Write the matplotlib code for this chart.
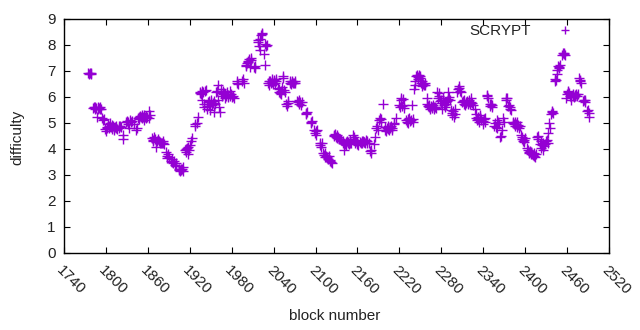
import matplotlib
matplotlib.use("Agg")
import matplotlib.pyplot as plt

blocks = [
    1775, 1776, 1777, 1778, 1779,
    1782, 1783, 1784, 1785, 1786, 1787, 1788, 1789, 1790, 1791, 1792, 1793, 1795, 1796, 1797,
    1799, 1800, 1801, 1802, 1803, 1804, 1805, 1806, 1807, 1808, 1809, 1810, 1811, 1812, 1813, 1814, 1815, 1816, 1818, 1819, 1820, 1822,
    1824, 1825,
    1829, 1830, 1831, 1832, 1833, 1835, 1836, 1838, 1840, 1843, 1844,
    1846, 1847, 1848, 1849, 1850, 1851, 1852, 1853, 1854, 1855, 1856, 1857, 1858, 1859, 1861, 1862, 1863,
    1866, 1867, 1868, 1869, 1870, 1871, 1872, 1873, 1874, 1876, 1877, 1878, 1879, 1880, 1881, 1882, 1883,
    1886, 1887, 1888, 1889, 1890,
    1893, 1894, 1895, 1896, 1897, 1899, 1900, 1901,
    1904, 1905, 1906, 1907, 1908, 1909, 1910, 1911,
    1913, 1914, 1915, 1916, 1917, 1918, 1919, 1920,
    1922, 1923,
    1927, 1928, 1930, 1932,
    1934, 1935, 1936, 1937, 1938, 1939, 1940, 1941, 1942, 1943, 1944, 1945, 1946, 1947, 1948, 1949, 1950, 1951, 1952, 1953, 1954, 1955, 1956,
    1958, 1959, 1960, 1961, 1962, 1963, 1964, 1965, 1966, 1967, 1968, 1969, 1970, 1971, 1972, 1973, 1974, 1975, 1977, 1978, 1979, 1980, 1982, 1984,
    1987, 1988, 1989,
    1995, 1996, 1997,
    2000, 2001, 2002, 2003, 2004, 2005, 2006, 2007, 2008,
    2012, 2013, 2014,
    2017, 2018, 2019, 2020, 2021, 2022, 2023, 2024,
    2026, 2027, 2028, 2029, 2030,
    2032, 2033, 2034, 2035, 2036, 2037, 2038, 2039, 2040, 2041, 2042, 2043, 2044,
    2046, 2047, 2048, 2049, 2050, 2051, 2052, 2053, 2054, 2055, 2056,
    2058, 2059, 2060, 2061,
    2063, 2064, 2065, 2066, 2067, 2068, 2069, 2070, 2071,
    2074, 2075, 2076, 2077, 2078, 2079, 2080,
    2086, 2087, 2088,
    2093, 2094, 2095,
    2098, 2099, 2100, 2101, 2102,
    2106, 2107, 2108, 2109,
    2111, 2112, 2113, 2114, 2115, 2116, 2118, 2119, 2120, 2121, 2122, 2123,
    2126, 2127, 2128, 2129, 2130, 2131, 2132, 2134, 2135, 2137,
    2139, 2140, 2141, 2142, 2143, 2144, 2145, 2146, 2147, 2148, 2149, 2150, 2151,
    2153, 2154, 2155, 2156, 2157, 2158, 2159, 2160, 2161,
    2164, 2165, 2166, 2167, 2168, 2169, 2170, 2171, 2172, 2173, 2174, 2176,
    2178, 2179, 2180,
    2183, 2185, 2187, 2188, 2189,
    2191, 2192, 2193, 2194, 2196,
    2199, 2200, 2201, 2202, 2203, 2204, 2205, 2206, 2207, 2208, 2209, 2210, 2212, 2213, 2215,
    2220, 2221, 2222, 2223, 2224, 2225, 2226, 2227,
    2230, 2231, 2232, 2233, 2234, 2235, 2236, 2238, 2239, 2240,
    2241, 2242, 2243, 2244, 2245, 2246, 2247, 2248, 2249, 2250, 2251, 2252, 2253, 2254, 2255, 2256, 2257,
    2259, 2260, 2261, 2262, 2263, 2264, 2265, 2266, 2267, 2268, 2269, 2270, 2271, 2272,
    2274, 2275, 2276, 2277, 2278, 2279, 2280, 2281, 2282, 2283, 2284, 2285, 2286, 2287, 2288, 2289, 2290, 2291, 2292,
    2294, 2295, 2296, 2297, 2298, 2299, 2300,
    2303, 2304, 2305, 2306, 2307, 2308,
    2310, 2311, 2312, 2313, 2314, 2315, 2316, 2317, 2318, 2319, 2320, 2321, 2322, 2323, 2324, 2325,
    2328, 2329, 2330, 2331, 2332, 2333, 2334, 2335, 2336, 2337,
    2339, 2340, 2341, 2342, 2343,
    2345, 2346, 2347, 2349, 2350, 2351, 2352, 2353,
    2356, 2357, 2358, 2359, 2360, 2361, 2362,
    2364, 2365, 2367, 2369, 2370,
    2372, 2373, 2374, 2376, 2377, 2378, 2379, 2380,
    2382, 2383, 2384, 2385, 2386, 2387, 2388, 2389, 2390, 2391, 2392,
    2394, 2395, 2396, 2397, 2398, 2399, 2400,
    2403, 2404, 2405, 2406, 2407, 2408, 2409, 2410, 2411, 2412, 2413, 2414, 2415,
    2417, 2418, 2419,
    2421, 2422, 2423, 2424, 2425, 2426, 2427, 2428,
    2430, 2431, 2432, 2433, 2434, 2435,
    2437, 2438, 2439, 2440,
    2442, 2443, 2444, 2445, 2446, 2447, 2448, 2449, 2450,
    2453, 2454, 2455, 2456, 2457,
    2459, 2460, 2461, 2462, 2463, 2464, 2465, 2466,
    2468, 2469, 2470, 2471, 2472, 2473, 2474, 2475,
    2477, 2478, 2479, 2480,
    2483, 2484, 2485, 2486,
    2489, 2490, 2491, 2492,
]

difficulty = [
    6.92, 6.90, 6.92, 6.91, 6.90,
    5.58, 5.62, 5.55, 5.60, 5.58, 5.23, 5.62, 5.55, 5.58, 5.52, 5.60, 5.55, 5.18, 5.10, 5.15,
    4.78, 4.68, 4.80, 4.85, 4.95, 4.88, 4.80, 5.00, 4.85, 4.78, 4.92, 4.88, 4.82, 4.75, 4.85, 4.90, 4.80, 4.78, 4.88, 4.82, 4.90, 4.85,
    4.55, 4.40,
    5.05, 5.08, 4.95, 5.02, 4.80, 5.10, 5.05, 5.08, 4.95, 4.73, 4.80,
    5.20, 5.25, 5.15, 5.28, 5.22, 5.32, 5.18, 5.25, 5.10, 5.30, 5.22, 5.28, 5.18, 5.25, 5.48, 5.20, 5.30,
    4.42, 4.35, 4.30, 4.45, 4.38, 4.28, 4.08, 4.32, 4.40, 4.30, 4.22, 4.28, 4.25, 4.22, 4.30, 4.25, 4.20,
    3.88, 3.75, 3.65, 3.80, 3.70,
    3.55, 3.50, 3.60, 3.45, 3.52, 3.40, 3.45, 3.35,
    3.25, 3.20, 3.15, 3.22, 3.18, 3.25, 3.15, 3.30,
    3.95, 4.00, 3.90, 4.05, 3.80, 4.08, 3.98, 4.15,
    4.30, 4.42,
    4.95, 4.88, 5.00, 5.25,
    6.15, 6.20, 6.10, 6.25, 5.90, 6.18, 5.60, 5.75, 6.22, 6.28, 5.55, 5.65, 5.80, 5.72, 5.85, 5.50, 5.80, 5.90, 5.70, 5.78, 5.85, 5.42, 5.75,
    6.20, 6.25, 5.88, 6.45, 5.60, 5.42, 6.15, 6.30, 6.05, 6.22, 6.10, 6.15, 5.98, 6.12, 6.05, 6.20, 6.00, 6.08, 6.25, 6.02, 6.10, 6.00, 6.05, 5.98,
    6.55, 6.62, 6.50,
    6.60, 6.68, 6.55,
    7.25, 7.18, 7.30, 7.40, 7.35, 7.48, 7.15, 7.50, 7.42,
    7.15, 7.12, 7.18,
    8.10, 8.20, 7.95, 8.25, 7.80, 8.40, 8.48, 8.42,
    7.65, 7.25, 8.05, 7.95, 8.00,
    6.55, 6.60, 6.48, 6.62, 6.55, 6.70, 6.58, 6.50, 6.65, 6.60, 6.55, 6.70, 6.62,
    6.35, 6.20, 6.30, 6.15, 6.25, 6.10, 6.40, 6.80, 6.72, 6.28, 6.18,
    5.72, 5.65, 5.85, 5.78,
    6.55, 6.62, 6.50, 6.60, 6.58, 6.55, 6.52, 6.60, 6.55,
    5.85, 5.80, 5.90, 5.75, 5.82, 5.68, 5.80,
    5.40, 5.35, 5.42,
    5.05, 5.00, 5.08,
    4.72, 4.62, 4.68, 4.55, 4.75,
    4.22, 4.15, 4.08, 4.25,
    3.85, 3.78, 3.85, 3.70, 3.75, 3.68, 3.60, 3.72, 3.55, 3.58, 3.50, 3.45,
    4.55, 4.50, 4.58, 4.45, 4.52, 4.42, 4.48, 4.40, 4.38, 4.35,
    4.25, 4.30, 3.96, 4.20, 4.28, 4.15, 4.32, 4.22, 4.28, 4.18, 4.25, 4.35, 4.22,
    4.40, 4.55, 4.48, 4.35, 4.25, 4.30, 4.20, 4.28, 4.15,
    4.28, 4.25, 4.32, 4.22, 4.30, 4.26, 4.28, 4.25, 4.35, 4.22, 4.30, 4.25,
    3.92, 3.85, 3.95,
    4.20, 4.45, 4.82, 4.88, 4.75,
    5.10, 5.20, 5.05, 5.15, 5.72,
    4.75, 4.85, 4.70, 4.80, 4.88, 4.78, 4.72, 4.85, 4.80, 4.90, 4.75, 4.82, 5.00, 4.95, 5.20,
    5.70, 5.60, 5.95, 5.88, 5.65, 5.92, 5.58, 5.70,
    5.10, 5.05, 5.15, 5.00, 5.20, 5.08, 5.12, 5.70, 5.05, 5.15,
    6.30, 6.45, 6.62, 6.80, 6.85, 6.78, 6.70, 6.85, 6.80, 6.75, 6.55, 6.60, 6.42, 6.50, 6.48, 6.55, 6.45,
    5.98, 5.72, 5.65, 5.60, 5.70, 5.55, 5.65, 5.62, 5.58, 5.68, 5.60, 5.55, 5.62, 5.58,
    6.20, 5.95, 6.05, 6.15, 5.85, 5.90, 5.78, 5.55, 5.95, 5.88, 5.70, 5.62, 5.82, 5.75, 5.85, 5.92, 6.18, 6.00, 5.90,
    5.50, 5.40, 5.30, 5.45, 5.22, 5.35, 5.55,
    6.20, 6.30, 6.42, 6.35, 6.25, 6.18,
    5.80, 5.85, 5.75, 5.90, 5.70, 5.82, 5.78, 5.85, 5.72, 5.88, 5.80, 5.75, 5.95, 5.82, 5.78, 5.70,
    5.55, 5.20, 5.35, 5.10, 5.25, 5.15, 5.05, 5.22, 5.30, 5.12,
    5.08, 4.95, 5.15, 5.05, 5.20,
    6.08, 6.05, 5.98, 5.72, 5.65, 5.75, 5.70, 5.62,
    4.90, 5.00, 4.85, 5.10, 4.80, 5.05, 4.95,
    4.45, 4.50, 4.72, 5.20, 5.05,
    5.98, 5.90, 5.95, 5.65, 5.70, 5.55, 5.60, 5.50,
    5.00, 5.05, 4.95, 4.90, 5.02, 4.98, 5.05, 4.85, 4.92, 4.80, 4.88,
    4.55, 4.40, 4.45, 4.30, 4.35, 4.28, 4.42,
    4.05, 3.95, 3.90, 3.85, 3.92, 3.80, 3.88, 3.82, 3.78, 3.85, 3.75, 3.68, 3.80,
    4.45, 4.40, 4.50,
    4.20, 4.30, 4.05, 4.15, 3.95, 4.25, 4.10, 4.18,
    4.30, 4.35, 4.25, 4.62, 5.00, 4.82,
    5.35, 5.42, 5.45, 5.38,
    6.62, 6.70, 6.65, 6.88, 7.05, 7.20, 7.15, 7.10, 7.22,
    7.62, 7.68, 7.65, 7.70, 7.62,
    5.95, 6.10, 6.20, 6.25, 6.15, 6.05, 5.90, 6.00,
    6.05, 6.10, 6.00, 6.08, 6.05, 6.12, 6.02, 6.10,
    6.72, 6.65, 6.60, 6.55,
    5.85, 5.90, 5.80, 5.88,
    5.45, 5.50, 5.25, 5.40,
]

x_ticks = list(range(1740, 2521, 60))
y_ticks = list(range(0, 10))
series_label = "SCRYPT"
x_label = "block number"
y_label = "difficulty"

plt.rcParams['font.family'] = ['Liberation Sans', 'DejaVu Sans']
FS = 11

fig = plt.figure(figsize=(6.4, 3.3), dpi=100)
ax = fig.add_axes([64 / 640, 1 - 253 / 330, (609 - 64) / 640, (253 - 19) / 330])

ax.plot(blocks, difficulty, linestyle='none', marker='+', color='#9400D3',
        markersize=6.5, markeredgewidth=1.0, label=series_label)

ax.set_xlim(1740, 2520)
ax.set_ylim(0, 9)
ax.set_xticks(x_ticks)
ax.set_yticks(y_ticks)
ax.set_xticklabels([str(t) for t in x_ticks], rotation=-45, ha='left', va='top',
                   rotation_mode='anchor', fontsize=FS, color='#222222')
ax.set_yticklabels([str(t) for t in y_ticks], fontsize=FS, color='#222222')
ax.tick_params(direction='in', length=4, width=0.8, top=True, right=True, pad=6)
ax.tick_params(axis='x', pad=7)
for s in ax.spines.values():
    s.set_linewidth(1.0)

fig.text(335 / 640, 1 - 316 / 330, x_label, ha='center', va='center', fontsize=FS, color='#222222')
fig.text(17 / 640, 1 - 137 / 330, y_label, ha='center', va='center', rotation=90, fontsize=FS, color='#222222')

leg = ax.legend(loc='center right', bbox_to_anchor=(580 / 640, 1 - 31 / 330),
                bbox_transform=fig.transFigure, frameon=False, markerfirst=False,
                fontsize=FS, handlelength=2.0, handletextpad=1.2, borderpad=0,
                borderaxespad=0, markerscale=0.85)
for t in leg.get_texts():
    t.set_color('#222222')

fig.savefig('out.png', dpi=100)
